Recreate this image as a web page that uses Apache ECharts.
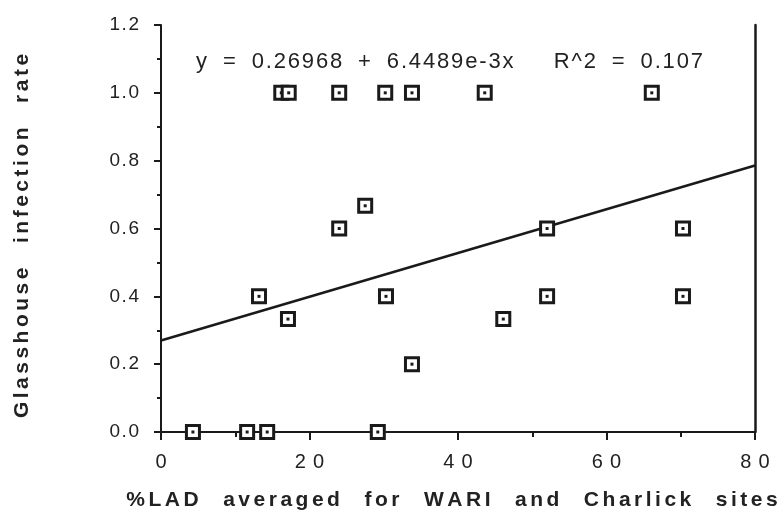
<!DOCTYPE html>
<html>
<head>
<meta charset="utf-8">
<script src="https://cdn.jsdelivr.net/npm/echarts@6/dist/echarts.min.js"></script>
<style>html,body{margin:0;padding:0;background:#fff}#c{width:779px;height:517px}</style>
</head>
<body>
<div id="c"></div>
<script>
// Data
const lad = [4.3, 11.6, 14.3, 29.2, 16.2, 17.2, 24.0, 30.2, 33.8, 43.6, 66.1, 27.5, 24.0, 52.0, 70.3, 13.2, 30.3, 52.0, 70.3, 17.1, 46.1, 33.8];
const infection = [0, 0, 0, 0, 1, 1, 1, 1, 1, 1, 1, 0.667, 0.6, 0.6, 0.6, 0.4, 0.4, 0.4, 0.4, 0.333, 0.333, 0.2];
const intercept = 0.26968;
const slope = 6.4489e-3;
const fitX = [0, 80];
const xTicks = [0, 20, 40, 60, 80];
const eqTokensA = ['y', '=', '0.26968', '+', '6.4489e-3x'];
const eqTokensB = ['R^2', '=', '0.107'];
const xTitleWords = ['%LAD', 'averaged', 'for', 'WARI', 'and', 'Charlick', 'sites'];
const yTitleWords = ['Glasshouse', 'infection', 'rate'];

const HS = '\u200A';
function spaced(tokens, nSpaces, sep) {
  return tokens.map(t => t.split('').join(sep)).join(sep + ' '.repeat(nSpaces) + sep);
}
const equationText = spaced(eqTokensA, 2, HS) + HS + ' '.repeat(6) + HS + spaced(eqTokensB, 2, HS);

const points = lad.map((x, i) => [x, infection[i]]);
const fitLine = fitX.map(x => [x, intercept + slope * x]);

const chart = echarts.init(document.getElementById('c'), null, {renderer: 'canvas'});
const axisColor = '#1a1a1a';
const font = '"Liberation Sans", Arial, Helvetica, sans-serif';
chart.setOption({
  backgroundColor: '#fff',
  animation: false,
  grid: {left: 161, right: 24, top: 25, bottom: 85},
  xAxis: {
    type: 'value', min: 0, max: 80, interval: 20,
    axisLine: {onZero: false, lineStyle: {color: axisColor, width: 2}},
    axisTick: {show: true, length: 8, lineStyle: {color: axisColor, width: 2}},
    minorTick: {show: true, splitNumber: 2, length: 5, lineStyle: {color: axisColor, width: 2}},
    splitLine: {show: false},
    axisLabel: {color: '#222', fontSize: 20, fontFamily: font, margin: 20,
      formatter: v => String(v).split('').join(HS + ' ')}
  },
  yAxis: [{
    type: 'value', min: 0, max: 1.2, interval: 0.2,
    axisLine: {show: true, lineStyle: {color: axisColor, width: 2}},
    axisTick: {show: true, length: 7, lineStyle: {color: axisColor, width: 2}},
    minorTick: {show: true, splitNumber: 2, length: 4, lineStyle: {color: axisColor, width: 2}},
    splitLine: {show: false},
    axisLabel: {color: '#222', fontSize: 19, fontFamily: font, margin: 22,
      formatter: v => v.toFixed(1).split('').join(HS)}
  }, {
    type: 'value', min: 0, max: 1.2, position: 'right',
    axisLine: {show: true, lineStyle: {color: axisColor, width: 2.5}},
    axisTick: {show: false}, axisLabel: {show: false}, splitLine: {show: false}
  }],
  graphic: [
    {type: 'text', x: 196, y: 62, style: {text: equationText, fontSize: 22, fontFamily: font, fill: '#222', align: 'left', verticalAlign: 'middle'}},
    {type: 'text', x: 452, y: 500, style: {text: spaced(xTitleWords, 3, HS + HS), fontSize: 21, fontWeight: 'bold', fontFamily: font, fill: '#222', align: 'center', verticalAlign: 'middle'}},
    {type: 'text', x: 22, y: 236, rotation: Math.PI / 2, style: {text: spaced(yTitleWords, 3, HS + HS), fontSize: 21, fontWeight: 'bold', fontFamily: font, fill: '#222', align: 'center', verticalAlign: 'middle'}}
  ],
  series: [
    {type: 'line', data: fitLine, symbol: 'none', lineStyle: {color: '#1a1a1a', width: 2.5}, z: 2},
    {type: 'scatter', data: points, symbol: 'rect', symbolSize: 13,
      itemStyle: {color: '#fff', borderColor: '#1a1a1a', borderWidth: 3, opacity: 1}, z: 3},
    {type: 'scatter', data: points, symbol: 'rect', symbolSize: 3,
      itemStyle: {color: '#1a1a1a', opacity: 1}, z: 4}
  ]
});
</script>
</body>
</html>
